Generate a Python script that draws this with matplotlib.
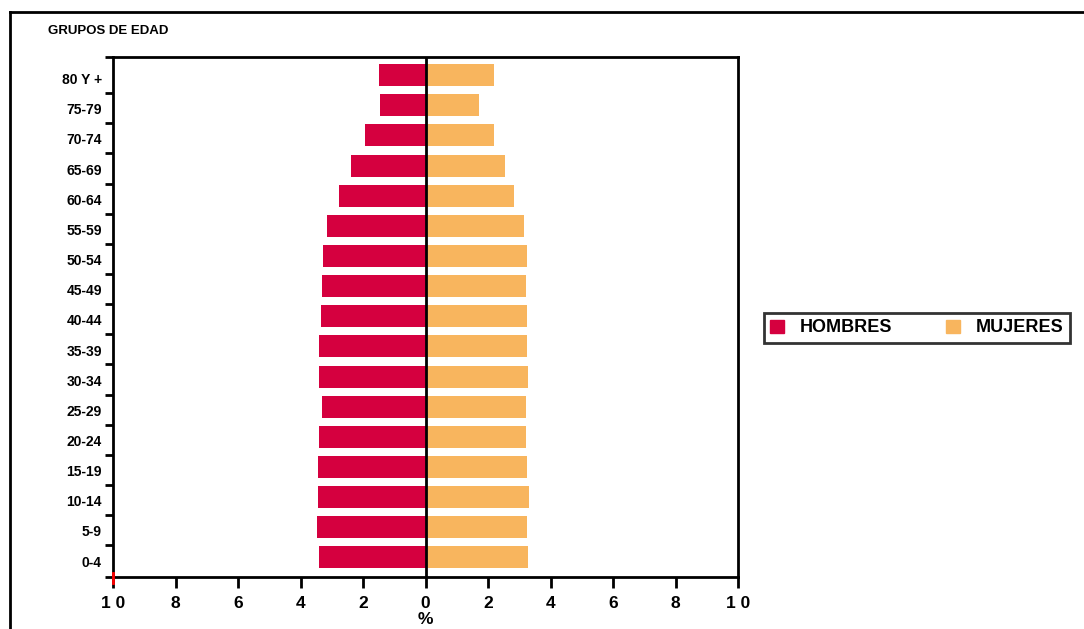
import matplotlib
matplotlib.use("Agg")
import matplotlib.pyplot as plt
import matplotlib.transforms as mtransforms
from matplotlib.lines import Line2D
from matplotlib.patches import Patch
import numpy as np

plt.rcParams['font.family'] = ['Liberation Sans', 'DejaVu Sans']
plt.rcParams['font.weight'] = 'bold'

# grupos de edad, de abajo hacia arriba
grupos = ['0-4', '5-9', '10-14', '15-19', '20-24', '25-29', '30-34', '35-39',
          '40-44', '45-49', '50-54', '55-59', '60-64', '65-69', '70-74', '75-79', '80 Y +']
hombres = [3.40, 3.46, 3.43, 3.43, 3.40, 3.30, 3.40, 3.40,
           3.33, 3.30, 3.27, 3.14, 2.78, 2.37, 1.95, 1.45, 1.50]
mujeres = [3.28, 3.25, 3.31, 3.25, 3.21, 3.21, 3.28, 3.25,
           3.25, 3.21, 3.25, 3.15, 2.83, 2.54, 2.18, 1.70, 2.18]
xticks = [-10, -8, -6, -4, -2, 0, 2, 4, 6, 8, 10]
xlabels = ['1 0', '8', '6', '4', '2', '0', '2', '4', '6', '8', '1 0']

c_h = '#D5003F'
c_m = '#F8B55E'

fig = plt.figure(figsize=(10.84, 6.29), dpi=100)
ax = fig.add_axes([113 / 1084, 52 / 629, 625 / 1084, 520 / 629])

y = np.arange(len(grupos))
ax.barh(y, [-v for v in hombres], height=0.73, color=c_h, zorder=2)
ax.barh(y, mujeres, height=0.73, color=c_m, zorder=2)
ax.axvline(0, color='black', lw=2, zorder=3)

ax.set_xlim(-10, 10)
ax.set_ylim(-0.65, 16.6)
ax.set_xticks(xticks)
ax.set_xticklabels(xlabels, fontsize=12.5, fontweight='bold')
ax.tick_params(axis='x', direction='out', length=8, width=2, pad=6)

# etiquetas algo por debajo del centro, marcas entre grupos
ax.set_yticks(y - 0.12)
ax.set_yticklabels(grupos, fontsize=10, fontweight='bold')
ax.tick_params(axis='y', which='major', length=0, pad=8)
ax.set_yticks(list(y[:-1] + 0.4) + [-0.65, 16.6], minor=True)
ax.tick_params(axis='y', which='minor', direction='out', length=6, width=2)

for s in ax.spines.values():
    s.set_linewidth(2)

# marca roja en la esquina
tr = mtransforms.blended_transform_factory(ax.transData, ax.transAxes)
ax.plot([-10, -10], [-0.012, 0.008], color='red', lw=2, transform=tr, clip_on=False, zorder=5)

ax.text(0, -0.082, '%', transform=tr, ha='center', va='center', fontsize=12.5, fontweight='bold')
fig.text(48 / 1084, 1 - 31 / 629, 'GRUPOS DE EDAD', ha='left', va='center', fontsize=9.5, fontweight='bold')

handles = [Patch(color=c_h, label='HOMBRES'), Patch(color=c_m, label='MUJERES')]
leg = fig.legend(handles=handles, ncol=2, loc='center', bbox_to_anchor=(917 / 1084, 1 - 328 / 629),
                 frameon=True, fancybox=False, handlelength=0.75, handleheight=0.75,
                 columnspacing=3.0, handletextpad=0.9, borderpad=0.35, borderaxespad=0,
                 prop={'weight': 'bold', 'size': 13})
leg.get_frame().set_edgecolor('black')
leg.get_frame().set_linewidth(2)

# marco exterior
fig.add_artist(Line2D([10 / 1084, 1], [1 - 12 / 629, 1 - 12 / 629], color='black', lw=2))
fig.add_artist(Line2D([10 / 1084, 10 / 1084], [0, 1 - 12 / 629], color='black', lw=2))

fig.savefig('out.png', dpi=100)
